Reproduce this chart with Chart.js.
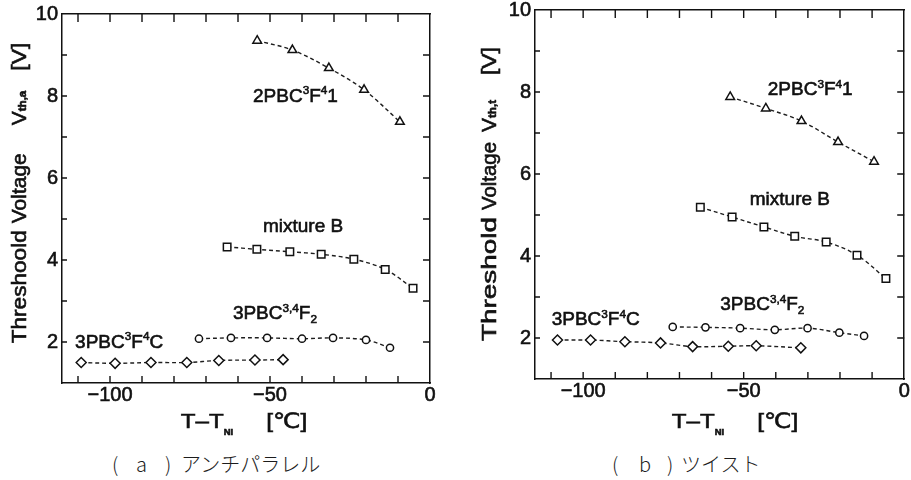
<!DOCTYPE html>
<html lang="ja">
<head>
<meta charset="UTF-8">
<title>Threshold Voltage</title>
<script src="https://cdn.jsdelivr.net/npm/chart.js@4.4.0/dist/chart.umd.min.js"></script>
<style>
  body { margin: 0; background: #fff; width: 911px; height: 480px; position: relative; overflow: hidden; }
  canvas { position: absolute; top: 0; }
  #ca { left: 0; }
  #cb { left: 455px; }
  .cap { position: absolute; top: 453px; font-family: "Noto Sans CJK JP", sans-serif; font-weight: 300; font-size: 20px; line-height: 22px; color: #1c1c1c; white-space: pre; }
  .cap span { position: absolute; top: 0; }
</style>
</head>
<body>
<canvas id="ca" width="455" height="440"></canvas>
<canvas id="cb" width="456" height="440"></canvas>
<div class="cap" style="left:112px"><span style="left:0">(</span><span style="left:24px">a</span><span style="left:53px">)</span><span style="left:69px">アンチパラレル</span></div>
<div class="cap" style="left:612px"><span style="left:0">(</span><span style="left:27px">b</span><span style="left:55px">)</span><span style="left:69px">ツイスト</span></div>
<script>
// ---- data ----
// (a) anti-parallel
const aTriX = [-54, -43, -31.6, -20.6, -9.4];
const aTriY = [9.35, 9.12, 8.68, 8.15, 7.37];
const aSqX = [-63.4, -54.1, -43.8, -34, -23.8, -14, -5.3];
const aSqY = [4.32, 4.26, 4.2, 4.14, 4.02, 3.77, 3.31];
const aCiX = [-72.2, -62.2, -50.9, -40, -30.3, -20, -12.5];
const aCiY = [2.08, 2.1, 2.1, 2.08, 2.1, 2.05, 1.86];
const aDiX = [-109, -98.4, -87.2, -76, -66, -54.7, -45.9];
const aDiY = [1.5, 1.48, 1.5, 1.5, 1.55, 1.56, 1.57];
// (b) twist
const bTriX = [-54.2, -43.1, -32, -20.6, -9.4];
const bTriY = [7.88, 7.6, 7.29, 6.78, 6.3];
const bSqX = [-63.5, -53.6, -43.7, -34.1, -24.3, -14.7, -5.7];
const bSqY = [5.19, 4.95, 4.71, 4.48, 4.34, 4.02, 3.45];
const bCiX = [-72.1, -61.9, -51.1, -40.3, -30.1, -20.2, -12.5];
const bCiY = [2.27, 2.26, 2.24, 2.2, 2.24, 2.13, 2.05];
const bDiX = [-108, -97.7, -87, -75.9, -65.9, -54.8, -46.1, -32.2];
const bDiY = [1.95, 1.95, 1.91, 1.88, 1.79, 1.8, 1.81, 1.76];

// ticks
const xTickLabels = [-100, -50, 0];
const yTickLabels = [2, 4, 6, 8, 10];
const xMarks = [-110, -100, -90, -80, -70, -60, -50, -40, -30, -20, -10];
const yMarks = [2, 3, 4, 5, 6, 7, 8, 9];

const FAM = '"Liberation Sans", Arial, "DejaVu Sans", sans-serif';
const INK = '#111';

function pts(xs, ys) {
  return xs.map((x, i) => ({ x: x, y: ys[i] }));
}

function series(data, style, r) {
  return {
    data: data,
    showLine: true,
    tension: 0.35,
    borderColor: '#1e1e1e',
    borderWidth: 1.4,
    borderDash: [4, 3],
    pointStyle: style,
    pointRadius: r,
    pointHoverRadius: r,
    pointBackgroundColor: '#fff',
    pointBorderColor: INK,
    pointBorderWidth: 1.5
  };
}

// text made of parts (normal / super / sub), left edge at x, middle at y.
// a part may carry len: it is then stretched to that length.
function rich(ctx, parts, x, y, size, draw) {
  ctx.textBaseline = 'middle';
  ctx.textAlign = 'left';
  let cx = x;
  parts.forEach(p => {
    cx += p.gap || 0;
    ctx.font = (p.w || 'normal') + ' ' + (size * (p.s || 1)) + 'px ' + FAM;
    const m = ctx.measureText(p.t).width;
    const w = p.len || m;
    if (draw) {
      ctx.save();
      ctx.translate(cx, y + (p.dy || 0) * size);
      ctx.scale(w / m, 1);
      ctx.fillText(p.t, 0, 0);
      ctx.strokeText(p.t, 0, 0);
      ctx.restore();
    }
    cx += w;
  });
  return cx - x;
}

const decor = {
  id: 'decor',
  afterDraw(chart, args, o) {
    const ctx = chart.ctx, ca = chart.chartArea;
    const x = chart.scales.x, y = chart.scales.y;
    ctx.save();
    // inward tick marks
    ctx.strokeStyle = INK;
    ctx.lineWidth = 1.4;
    ctx.beginPath();
    xMarks.forEach(v => {
      const px = x.getPixelForValue(v);
      ctx.moveTo(px, ca.bottom); ctx.lineTo(px, ca.bottom - 7);
      ctx.moveTo(px, ca.top); ctx.lineTo(px, ca.top + 8);
    });
    yMarks.forEach(v => {
      const py = y.getPixelForValue(v);
      ctx.moveTo(ca.left, py); ctx.lineTo(ca.left + 5, py);
      ctx.moveTo(ca.right, py); ctx.lineTo(ca.right - 7, py);
    });
    ctx.stroke();

    ctx.fillStyle = INK;
    ctx.lineWidth = 0.6;
    // curve labels
    o.labels.forEach(l => {
      rich(ctx, l.parts, x.getPixelForValue(l.x), y.getPixelForValue(l.y), 19, true);
    });
    // x title
    let w = rich(ctx, o.xTitle.parts, 0, 0, 21, false);
    rich(ctx, o.xTitle.parts, o.xTitle.cx - w / 2, o.xTitle.cy, 21, true);
    // y title
    ctx.translate(o.yTitle.cx, o.yTitle.cy);
    ctx.rotate(-Math.PI / 2);
    w = rich(ctx, o.yTitle.parts, 0, 0, 21, false);
    rich(ctx, o.yTitle.parts, -w / 2, 0, 21, true);
    ctx.restore();
  }
};

const sup = { s: 0.62, dy: -0.3 };
const sub = { s: 0.62, dy: 0.3 };
function lbl(name) {
  if (name === 'tri') return [{ t: '2PBC' }, Object.assign({ t: '3' }, sup), { t: 'F' }, Object.assign({ t: '4' }, sup), { t: '1' }];
  if (name === 'sq') return [{ t: 'mixture B' }];
  if (name === 'ci') return [{ t: '3PBC' }, Object.assign({ t: '3,4' }, sup), { t: 'F' }, Object.assign({ t: '2' }, sub)];
  return [{ t: '3PBC' }, Object.assign({ t: '3' }, sup), { t: 'F' }, Object.assign({ t: '4' }, sup), { t: 'C' }];
}

const xTitleParts = [{ t: 'T\u2013T', len: 43 }, { t: 'NI', s: 0.45, dy: 0.5, w: 'bold' }, { t: '[\u2103]', gap: 33, len: 41 }];

function panel(id, sets, g, labels, yTitleParts, xT, yT) {
  const tickFont = { family: FAM, size: 20 };
  const tickCommon = { font: tickFont, color: INK, textStrokeColor: INK, textStrokeWidth: 0.6 };
  return new Chart(document.getElementById(id), {
    type: 'scatter',
    data: { datasets: sets },
    options: {
      responsive: false,
      animation: false,
      events: [],
      layout: { padding: 0 },
      plugins: {
        legend: { display: false },
        tooltip: { enabled: false },
        decor: { labels: labels, xTitle: { parts: xTitleParts, cx: xT[0], cy: xT[1] }, yTitle: { parts: yTitleParts, cx: yT[0], cy: yT[1] } }
      },
      scales: {
        x: {
          type: 'linear', position: 'bottom', min: -115, max: 0,
          afterBuildTicks: s => { s.ticks = xTickLabels.map(v => ({ value: v })); },
          afterFit: s => { s.height = g.xh; s.paddingLeft = 0; s.paddingRight = 0; },
          ticks: Object.assign({ padding: 0, maxRotation: 0, autoSkip: false,
                   callback: v => String(v).replace('-', '\u2212') }, tickCommon),
          grid: { display: false, drawTicks: false },
          border: { display: true, color: INK, width: 1.5 }
        },
        x2: {
          type: 'linear', position: 'top', min: -115, max: 0,
          afterFit: s => { s.height = g.x2h; s.paddingLeft = 0; s.paddingRight = 0; },
          ticks: { display: false },
          grid: { display: false, drawTicks: false },
          border: { display: true, color: INK, width: 1.5 }
        },
        y: {
          type: 'linear', position: 'left', min: 1, max: 10,
          afterBuildTicks: s => { s.ticks = yTickLabels.map(v => ({ value: v })); },
          afterFit: s => { s.width = g.yw; s.paddingTop = 0; s.paddingBottom = 0; },
          ticks: Object.assign({ padding: 4 }, tickCommon),
          grid: { display: false, drawTicks: false },
          border: { display: true, color: INK, width: 1.5 }
        },
        y2: {
          type: 'linear', position: 'right', min: 1, max: 10,
          afterFit: s => { s.width = g.y2w; s.paddingTop = 0; s.paddingBottom = 0; },
          ticks: { display: false },
          grid: { display: false, drawTicks: false },
          border: { display: true, color: INK, width: 1.5 }
        }
      }
    },
    plugins: [decor]
  });
}

panel('ca', [
  series(pts(aTriX, aTriY), 'triangle', 5),
  series(pts(aSqX, aSqY), 'rect', 5.3),
  series(pts(aCiX, aCiY), 'circle', 3.6),
  series(pts(aDiX, aDiY), 'rectRot', 5)
], { yw: 62, y2w: 25, x2h: 14, xh: 57 }, [
  { parts: lbl('tri'), x: -55.3, y: 7.98 },
  { parts: lbl('sq'), x: -52.2, y: 4.8 },
  { parts: lbl('ci'), x: -61.6, y: 2.68 },
  { parts: lbl('di'), x: -110.9, y: 1.98 }
], [{ t: 'Threshoold', len: 113 }, { t: 'Voltage', gap: 7, len: 70 }, { t: 'V', gap: 28 }, { t: 'th,a', s: 0.55, dy: 0.15, w: 'bold' }, { t: '[V]', gap: 20, len: 28 }],
  [244, 422], [20, 193]);

panel('cb', [
  series(pts(bTriX, bTriY), 'triangle', 5),
  series(pts(bSqX, bSqY), 'rect', 5.3),
  series(pts(bCiX, bCiY), 'circle', 3.6),
  series(pts(bDiX, bDiY), 'rectRot', 5)
], { yw: 80, y2w: 3, x2h: 10, xh: 61 }, [
  { parts: lbl('tri'), x: -42.5, y: 8.05 },
  { parts: lbl('sq'), x: -48.1, y: 5.37 },
  { parts: lbl('ci'), x: -57.3, y: 2.8 },
  { parts: lbl('di'), x: -109.8, y: 2.44 }
], [{ t: 'Threshold', len: 124 }, { t: 'Voltage', gap: 7, len: 68 }, { t: 'V', gap: 10 }, { t: 'th,t', s: 0.55, dy: 0.15, w: 'bold' }, { t: '[V]', gap: 25, len: 28 }],
  [280, 422], [35, 194]);
</script>
</body>
</html>
